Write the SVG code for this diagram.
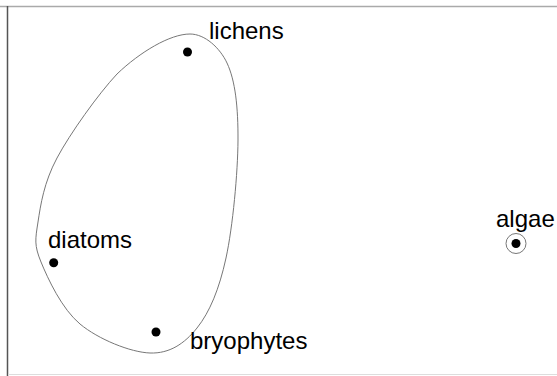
<svg xmlns="http://www.w3.org/2000/svg" width="557" height="376" viewBox="0 0 557 376">
<style>
.lbl{font-family:"Liberation Sans",Arial,sans-serif;font-size:24px;fill:#000}
.dot{fill:#000}
.hull{fill:none;stroke:#777;stroke-width:1}
</style>
<rect x="0" y="0" width="557" height="376" fill="#fff"/>
<g id="frame">
<line x1="0" y1="6.5" x2="557" y2="6.5" stroke="#aaa" stroke-width="1.5"/>
<line x1="7.5" y1="6" x2="7.5" y2="376" stroke="#555" stroke-width="1.5"/>
<line x1="8" y1="374.5" x2="557" y2="374.5" stroke="#ddd" stroke-width="1"/>
</g>
<g id="connectors">
<path class="hull" d="M190,34 C205,34 220,48 227,63 C235.33,80.5 238.17,107.5 238,140 C237.83,172.5 232.83,226.67 226,258 C219.17,289.33 209.67,312.17 197,328 C184.33,343.83 169.5,353.67 150,353 C130.5,352.33 98.17,339.17 80,324 C61.83,308.83 48,279 41,262 C34,245 35.33,239.33 38,222 C40.67,204.67 43.83,182.67 57,158 C70.17,133.33 98.17,94.17 117,74 C140,52 170,34 190,34 Z"/>
<circle class="hull" cx="516" cy="243.5" r="10"/>
</g>
<g id="lichens"><circle class="dot" cx="187.5" cy="52" r="4.5"/><text class="lbl" x="209" y="39">lichens</text></g>
<g id="diatoms"><circle class="dot" cx="53.7" cy="262.7" r="4.5"/><text class="lbl" x="48" y="248">diatoms</text></g>
<g id="bryophytes"><circle class="dot" cx="156" cy="332" r="4.5"/><text class="lbl" x="190" y="349">bryophytes</text></g>
<g id="algae"><circle class="dot" cx="516" cy="243.5" r="4.5"/><text class="lbl" x="496" y="227">algae</text></g>
</svg>
